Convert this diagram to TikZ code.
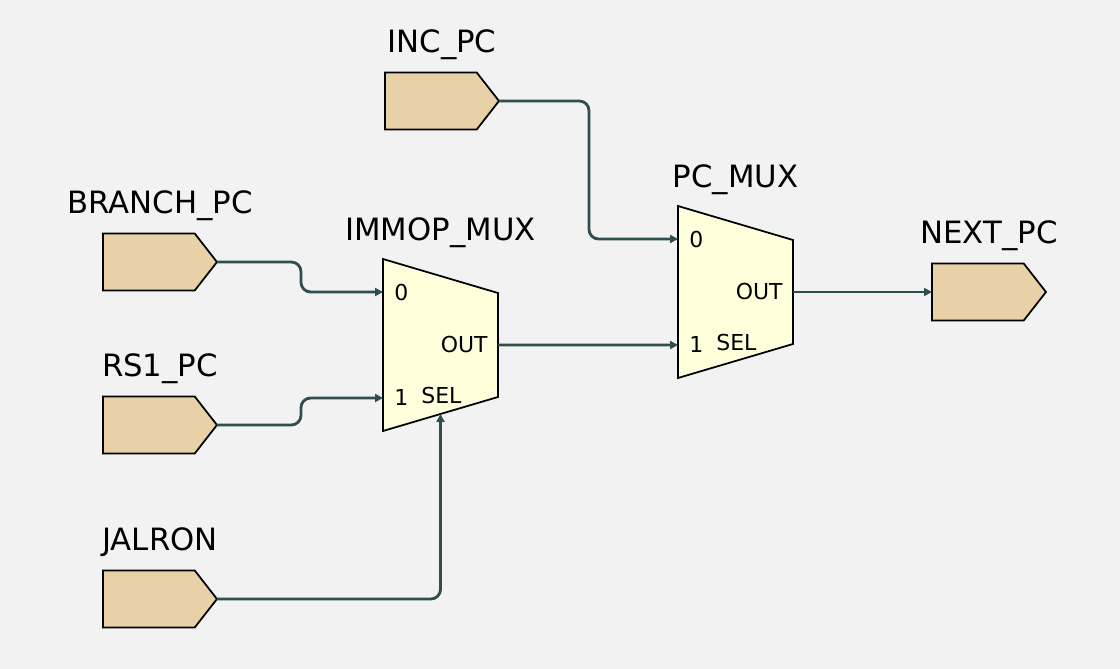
\documentclass[tikz,border=0pt]{standalone}
\usepackage{fontspec}
\setmainfont{DejaVu Sans}
\usetikzlibrary{shapes.symbols, positioning, arrows.meta, calc}
\definecolor{bgcol}{HTML}{F2F2F2}
\definecolor{portcol}{HTML}{E8D1A7}
\definecolor{muxcol}{HTML}{FFFFDC}
\definecolor{wirecol}{HTML}{2F4F4F}
\tikzset{
x=0.02cm, y=-0.02cm, % one unit is one pixel of the sketch, y runs down
>={Triangle[length=4.5pt, width=4.5pt]}, % small filled heads at the inputs
port/.style={signal, signal to=east, signal pointer angle=104, draw=black, line width=1pt, fill=portcol, minimum width=2.28cm, minimum height=1.14cm, inner sep=0pt, outer sep=0pt, anchor=west}, % the pentagon pins
portname/.style={font=\fontsize{17.5}{20}\selectfont, inner sep=0pt, anchor=base}, % the names above pins and muxes
muxbox/.style={minimum width=2.3cm, minimum height=3.44cm, inner sep=0pt, outer sep=0pt}, % frame that holds a mux
muxbody/.style={draw=black, line width=1pt, fill=muxcol, line join=miter},
pinlabel/.style={font=\fontsize{12.5}{15}\selectfont, inner sep=0pt},
wire/.style={->, draw=wirecol, line width=1.6pt, rounded corners=5.5pt},
}
\begin{document}
\begin{tikzpicture}
\useasboundingbox (0,0) rectangle (1120,669);
\fill[bgcol] (0,0) rectangle (1120,669);

% pins
\node[port] (incpc) at (385,101) {};
\node[port] (branchpc) at (103,262) {};
\node[port] (rs1pc) at (103,425) {};
\node[port] (jalron) at (103,599) {};
\node[port] (nextpc) at (932,292) {};
\foreach \p/\t in {incpc/INC\_PC, branchpc/BRANCH\_PC, rs1pc/RS1\_PC, jalron/JALRON, nextpc/NEXT\_PC}
    \node[portname] (\p-name) at ([yshift=0.97cm]$(\p.west)!0.5!(\p.east)$) {\t};

% muxes
\node[muxbox] (immop) at (440.5,345) {};
\node[muxbox] (pcmux) at (735.5,292) {};
\foreach \m/\t in {immop/IMMOP\_MUX, pcmux/PC\_MUX} {
    \draw[muxbody] (\m.north west) -- ([yshift=-0.68cm]\m.north east) -- ([yshift=0.68cm]\m.south east) -- (\m.south west) -- cycle;
    \coordinate (\m-in0) at ([yshift=1.06cm]\m.west);
    \coordinate (\m-in1) at ([yshift=-1.06cm]\m.west);
    \coordinate (\m-sel) at ([yshift=0.34cm]\m.south);
    \node[pinlabel, anchor=west] (\m-zero) at ([xshift=0.22cm]\m-in0) {0};
    \node[pinlabel, anchor=west] (\m-one) at ([xshift=0.22cm]\m-in1) {1};
    \node[pinlabel, anchor=west] (\m-sellabel) at ([xshift=0.76cm, yshift=0.04cm]\m-in1) {SEL};
    \node[pinlabel, anchor=east] (\m-out) at ([xshift=-0.2cm]\m.east) {OUT};
    \node[portname] (\m-name) at ([yshift=0.38cm]\m.north) {\t};
}

% wires
\draw[wire] (branchpc.east) -- ++(84,0) |- (immop-in0);
\draw[wire] (rs1pc.east) -- ++(84,0) |- (immop-in1);
\draw[wire] (jalron.east) -| (immop-sel);
\draw[wire] (incpc.east) -- ++(90,0) |- (pcmux-in0);
\draw[wire] (immop.east) -- (pcmux-in1);
\draw[wire] (pcmux.east) -- (nextpc.west);
\end{tikzpicture}
\end{document}
